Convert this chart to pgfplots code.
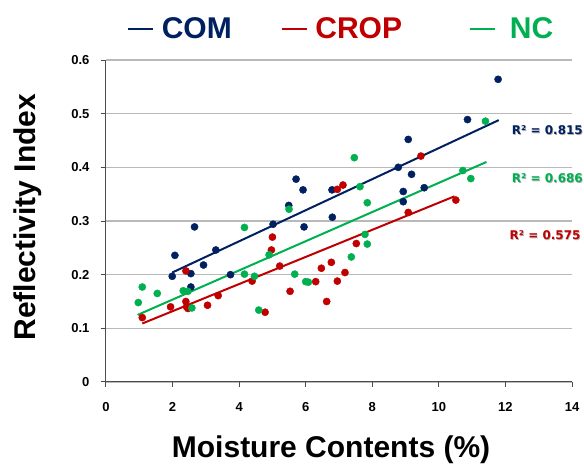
\documentclass[border=0pt]{standalone}
\usepackage{pgfplots}
\pgfplotsset{compat=1.18}
\usepackage{fontspec}
\setmainfont{Liberation Sans}
\newfontfamily\rfont{DejaVu Sans}
\definecolor{comblue}{RGB}{0,32,96}
\definecolor{cropred}{RGB}{192,0,0}
\definecolor{ncgreen}{RGB}{0,176,80}

\begin{document}
\begin{tikzpicture}
\useasboundingbox (-106pt,-89pt) rectangle (478pt,382pt);
\begin{axis}[
    scale only axis,
    width=466pt, height=322pt,
    xmin=0, xmax=14, ymin=0, ymax=0.6,
    xtick={0,2,4,6,8,10,12,14},
    ytick={0,0.1,0.2,0.3,0.4,0.5,0.6},
    axis x line*=bottom, axis y line*=left,
    axis line style={-, draw=gray!60!black, line width=1pt},
    tick style={draw=gray!60!black, line width=1pt},
    tick align=outside, major tick length=5pt,
    ymajorgrids, major grid style={draw=gray!55, line width=1.2pt},
    /pgf/number format/assume math mode=true,
    /pgf/number format/fixed,
    ticklabel style={font=\bfseries\fontsize{13}{13}\selectfont},
    yticklabel style={xshift=-8pt},
    xticklabel style={yshift=-12pt},
    label style={font=\bfseries\fontsize{30}{34}\selectfont},
    xlabel={Moisture Contents (\%)},
    xlabel style={at={(axis description cs:0.483,-0.236)}, anchor=base},
    ylabel={Reflectivity Index},
    ylabel style={at={(axis description cs:-0.152,0.512)}, anchor=base},
    clip=false,
    legend columns=3,
    legend style={draw=none, fill=none, inner sep=0pt,
        at={(axis description cs:0.045,1.097)}, anchor=west,
        font=\bfseries\fontsize{30}{34}\selectfont,
        nodes={inner sep=0pt},
        /tikz/every odd column/.style={column sep=8pt}},
    legend image code/.code={\draw[#1,line width=1.6pt] (0pt,0pt) -- (25pt,0pt);},
]
% COM
\addplot[only marks, mark=*, mark size=3.6pt, color=comblue, forget plot] coordinates {
(1.99,0.197) (2.07,0.236) (2.55,0.202) (2.55,0.177) (2.66,0.289) (2.93,0.218)
(3.30,0.246) (3.74,0.200) (5.02,0.294) (5.49,0.329) (5.71,0.378) (5.92,0.358)
(5.95,0.289) (6.79,0.358) (6.80,0.307) (8.78,0.400) (8.93,0.355) (8.93,0.336)
(9.08,0.452) (9.18,0.387) (9.56,0.362) (10.86,0.489) (11.78,0.564)};
% CROP
\addplot[only marks, mark=*, mark size=3.6pt, color=cropred, forget plot] coordinates {
(1.09,0.120) (1.94,0.140) (2.40,0.207) (2.40,0.150) (2.42,0.140) (2.46,0.137)
(3.05,0.143) (3.37,0.161) (4.39,0.188) (4.78,0.130) (4.97,0.246) (5.00,0.270)
(5.22,0.216) (5.53,0.169) (6.30,0.187) (6.47,0.212) (6.63,0.150) (6.77,0.223)
(6.95,0.188) (6.95,0.359) (7.12,0.367) (7.18,0.204) (7.52,0.258) (9.08,0.316)
(9.46,0.421) (10.51,0.339)};
% NC
\addplot[only marks, mark=*, mark size=3.6pt, color=ncgreen, forget plot] coordinates {
(0.97,0.148) (1.09,0.177) (1.54,0.165) (2.32,0.170) (2.46,0.169) (2.58,0.138)
(4.16,0.288) (4.16,0.201) (4.46,0.197) (4.59,0.134) (4.90,0.237) (5.50,0.322)
(5.67,0.201) (6.00,0.187) (6.08,0.186) (7.37,0.233) (7.46,0.418) (7.63,0.364)
(7.78,0.275) (7.85,0.334) (7.85,0.257) (10.72,0.394) (10.96,0.379) (11.40,0.486)};
% trend lines
\addplot[comblue, line width=2pt, no marks] coordinates {(1.99,0.204) (11.80,0.488)};
\addlegendentry{\makebox[119pt][l]{\textcolor{comblue}{COM}}}
\addplot[cropred, line width=2pt, no marks] coordinates {(1.09,0.109) (10.47,0.346)};
\addlegendentry{\makebox[154pt][l]{\textcolor{cropred}{CROP}}}
\addplot[ncgreen, line width=2pt, no marks] coordinates {(0.95,0.125) (11.43,0.410)};
\addlegendentry{\hspace{6pt}\textcolor{ncgreen}{NC}}
% R^2 labels
\node[font=\rfont\bfseries\fontsize{12}{12}\selectfont, text=gray!60] at (axis cs:13.26,0.469) [xshift=0.7pt,yshift=-0.7pt] {R² = 0.815};
\node[font=\rfont\bfseries\fontsize{12}{12}\selectfont, text=comblue] at (axis cs:13.26,0.469) {R² = 0.815};
\node[font=\rfont\bfseries\fontsize{12}{12}\selectfont, text=gray!60] at (axis cs:13.26,0.380) [xshift=0.7pt,yshift=-0.7pt] {R² = 0.686};
\node[font=\rfont\bfseries\fontsize{12}{12}\selectfont, text=ncgreen] at (axis cs:13.26,0.380) {R² = 0.686};
\node[font=\rfont\bfseries\fontsize{12}{12}\selectfont, text=gray!60] at (axis cs:13.19,0.274) [xshift=0.7pt,yshift=-0.7pt] {R² = 0.575};
\node[font=\rfont\bfseries\fontsize{12}{12}\selectfont, text=cropred] at (axis cs:13.19,0.274) {R² = 0.575};
\end{axis}
\end{tikzpicture}
\end{document}
